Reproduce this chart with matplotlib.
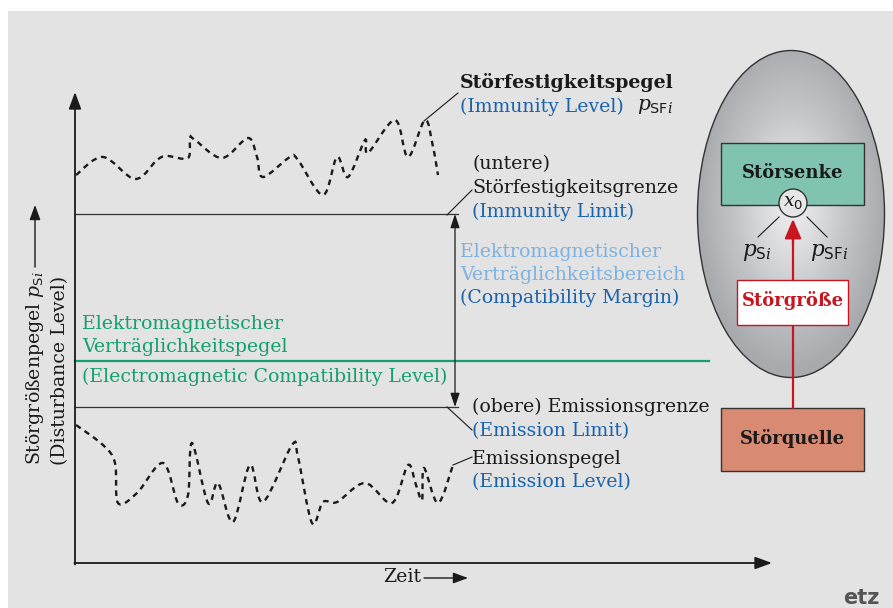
import numpy as np
import matplotlib
matplotlib.use("Agg")
import matplotlib.pyplot as plt
from matplotlib.colors import LinearSegmentedColormap
from matplotlib.patches import Rectangle, Ellipse, Circle, PathPatch
from matplotlib.path import Path

# Diagram coordinates are pixel-like units (x to the right, y downwards)
plt.rcParams["font.family"] = ["DejaVu Serif"]
plt.rcParams["mathtext.fontset"] = "custom"
plt.rcParams["mathtext.rm"] = "DejaVu Serif"
plt.rcParams["mathtext.it"] = "DejaVu Serif:italic"
plt.rcParams["mathtext.sf"] = "DejaVu Sans"

# Immunity level (Stoerfestigkeitspegel)
immunity_t = [76, 103, 135, 157, 167, 188, 190, 195, 222, 248, 257, 263, 290, 298,
              323, 337, 348, 365, 368, 395, 408, 425, 433, 438]
immunity_p = [175, 157, 179, 160, 156, 158, 138, 140, 158, 138, 157, 177, 157, 160,
              195, 157, 177, 140, 153, 120, 157, 120, 147, 175]

# Emission level (Emissionspegel)
emission_t = [76, 103, 115, 118, 137, 163, 178, 188, 192, 208, 218, 233, 250, 263,
              292, 298, 312, 323, 337, 365, 392, 408, 416, 422, 424, 438, 453]
emission_p = [425, 445, 463, 503, 493, 463, 503, 495, 443, 503, 483, 522, 465, 502,
              445, 457, 523, 502, 502, 483, 503, 465, 485, 500, 468, 503, 465]

# horizontal levels
immunity_limit = 214
emc_level = 361
emission_limit = 407

DARK = "#1a1a1a"
BLUE = "#1b62ad"
LIGHT_BLUE = "#7fb2e0"
GREEN = "#14a06e"
RED = "#c8151f"
FS = 13.6
BOX_FS = 13


def smooth_path(xs, ys):
    pts = np.column_stack([xs, ys]).astype(float)
    verts = [pts[0]]
    codes = [Path.MOVETO]
    n = len(pts)
    for i in range(n - 1):
        p0 = pts[max(i - 1, 0)]
        p1 = pts[i]
        p2 = pts[i + 1]
        p3 = pts[min(i + 2, n - 1)]
        verts += [p1 + (p2 - p0) / 6.0, p2 - (p3 - p1) / 6.0, p2]
        codes += [Path.CURVE4] * 3
    return Path(verts, codes)


def arrow(x0, y0, x1, y1, color=DARK, lw=1.0, ms=15, style="-|>,head_length=0.6,head_width=0.22", z=3):
    ax.annotate("", xy=(x1, y1), xytext=(x0, y0), zorder=z,
                arrowprops=dict(arrowstyle=style, lw=lw, color=color,
                                mutation_scale=ms, shrinkA=0, shrinkB=0))


fig = plt.figure(figsize=(8.93, 6.08), dpi=100)
fig.patch.set_facecolor("white")
ax = fig.add_axes([0, 0, 1, 1])
ax.set_xlim(0, 893)
ax.set_ylim(608, 0)
ax.axis("off")

ax.add_patch(Rectangle((8, 11), 885, 597, facecolor="#e3e3e3", edgecolor="none", zorder=0))

# axes with arrows
arrow(75, 564.5, 75, 92, lw=1.3, ms=17)
arrow(74.4, 563, 772, 563, lw=1.3, ms=17)

# level curves
for xs, ys in [(immunity_t, immunity_p), (emission_t, emission_p)]:
    ax.add_patch(PathPatch(smooth_path(xs, ys), facecolor="none", edgecolor=DARK,
                           lw=1.7, linestyle=(0, (2.4, 2.0)), capstyle="butt", zorder=3))

# limits
ax.plot([75, 458], [immunity_limit, immunity_limit], color="#333333", lw=0.9)
ax.plot([75, 458], [emission_limit, emission_limit], color="#333333", lw=0.9)
ax.plot([75, 709], [emc_level, emc_level], color=GREEN, lw=1.6)
arrow(455, emission_limit, 455, immunity_limit, lw=0.9, ms=14,
      style="<|-|>,head_length=0.6,head_width=0.2")

# leader lines
for (x0, y0), (x1, y1) in [((424, 121), (458, 93)), ((447, 215), (472, 190)),
                           ((447, 407), (472, 430)), ((453, 465), (472, 457))]:
    ax.plot([x0, x1], [y0, y1], color=DARK, lw=0.8)

# right hand texts
ax.text(460, 83, "Störfestigkeitspegel", fontsize=FS, fontweight="bold", color=DARK, va="center")
ax.text(460, 107, "(Immunity Level)", fontsize=FS, color=BLUE, va="center")
ax.text(637, 106, r"$p_{\mathsf{SF}i}$", fontsize=FS + 1, color=DARK, va="center")
ax.text(472, 164, "(untere)", fontsize=FS, color=DARK, va="center")
ax.text(472, 188, "Störfestigkeitsgrenze", fontsize=FS, color=DARK, va="center")
ax.text(472, 212, "(Immunity Limit)", fontsize=FS, color=BLUE, va="center")
ax.text(460, 252, "Elektromagnetischer", fontsize=FS, color=LIGHT_BLUE, va="center")
ax.text(460, 275, "Verträglichkeitsbereich", fontsize=FS, color=LIGHT_BLUE, va="center")
ax.text(460, 298, "(Compatibility Margin)", fontsize=FS, color=BLUE, va="center")
ax.text(472, 407, "(obere) Emissionsgrenze", fontsize=FS, color=DARK, va="center")
ax.text(472, 431, "(Emission Limit)", fontsize=FS, color=BLUE, va="center")
ax.text(472, 459, "Emissionspegel", fontsize=FS, color=DARK, va="center")
ax.text(472, 482, "(Emission Level)", fontsize=FS, color=BLUE, va="center")

ax.text(82, 324, "Elektromagnetischer", fontsize=FS, color=GREEN, va="center")
ax.text(82, 347, "Verträglichkeitspegel", fontsize=FS, color=GREEN, va="center")
ax.text(82, 377, "(Electromagnetic Compatibility Level)", fontsize=FS, color=GREEN, va="center")

# axis labels
ylab = ax.text(35, 465, r"Störgrößenpegel $p_{\mathsf{S}i}$", fontsize=FS, color=DARK, rotation=90,
               ha="center", va="bottom")
ax.text(60, 465, "(Disturbance Level)", fontsize=FS, color=DARK, rotation=90,
        ha="center", va="bottom")
fig.canvas.draw()
bb = ylab.get_window_extent().transformed(ax.transData.inverted())
top = min(bb.y0, bb.y1)
arrow(35, top - 4, 35, 205, lw=1.0, ms=15)

zt = ax.text(383, 577, "Zeit", fontsize=FS, color=DARK, va="center")
bz = zt.get_window_extent(fig.canvas.get_renderer()).transformed(ax.transData.inverted())
arrow(bz.x1 + 3, 578, 468, 578, lw=1.0, ms=15)

# ellipse with radial shading
ell = Ellipse((791, 214), 187, 327, facecolor="none", edgecolor="#333333", lw=1.0, zorder=3)
ax.add_patch(ell)
gx, gy = np.meshgrid(np.linspace(-1, 1, 200), np.linspace(-1, 1, 300))
r = np.clip(np.sqrt(gx ** 2 + (gy + 0.05) ** 2), 0, 1)
shade_cmap = LinearSegmentedColormap.from_list("shade", ["#a9aaae", "#c4c5c9", "#ececee"])
img = ax.imshow(1 - r ** 1.3, cmap=shade_cmap, vmin=0, vmax=1, extent=(697.5, 884.5, 377.5, 50.5),
                zorder=1, interpolation="bilinear")
img.set_clip_path(Ellipse((791, 214), 187, 327, transform=ax.transData))
ax.set_xlim(0, 893)
ax.set_ylim(608, 0)

# boxes
ax.add_patch(Rectangle((721, 143), 143, 62, facecolor="#7fc3b0", edgecolor="#333333", lw=1.0, zorder=4))
ax.text(792.5, 173, "Störsenke", fontsize=BOX_FS, fontweight="bold", color=DARK,
        ha="center", va="center", zorder=5)
ax.add_patch(Rectangle((721, 408), 143, 63, facecolor="#d98a73", edgecolor="#333333", lw=1.0, zorder=4))
ax.text(792.5, 438, "Störquelle", fontsize=BOX_FS, fontweight="bold", color=DARK,
        ha="center", va="center", zorder=5)

ax.plot([793, 793], [408, 240], color=RED, lw=1.6, zorder=4)
arrow(793, 245, 793, 219, color=RED, lw=1.6, ms=17,
      style="-|>,head_length=0.7,head_width=0.3", z=4)
ax.add_patch(Rectangle((737, 280), 111, 45, facecolor="white", edgecolor=RED, lw=1.0, zorder=5))
ax.text(792.5, 301, "Störgröße", fontsize=BOX_FS, fontweight="bold", color=RED,
        ha="center", va="center", zorder=6)

ax.add_patch(Circle((793, 203), 14, facecolor="#e6e6e6", edgecolor="#333333", lw=1.0, zorder=6))
ax.text(793, 202, r"$x_{\mathsf{0}}$", fontsize=FS, color=DARK, ha="center", va="center", zorder=7)
ax.plot([779, 758], [217, 237], color=DARK, lw=0.8, zorder=4)
ax.plot([807, 827], [217, 237], color=DARK, lw=0.8, zorder=4)
ax.text(757, 252, r"$p_{\mathsf{S}i}$", fontsize=FS + 2, color=DARK, ha="center", va="center", zorder=5)
ax.text(829, 252, r"$p_{\mathsf{SF}i}$", fontsize=FS + 2, color=DARK, ha="center", va="center", zorder=5)

ax.text(880, 598, "etz", fontsize=15, fontweight="bold", family="DejaVu Sans", color="#555555",
        ha="right", va="center")

fig.savefig("out.png", dpi=100, facecolor=fig.get_facecolor())
